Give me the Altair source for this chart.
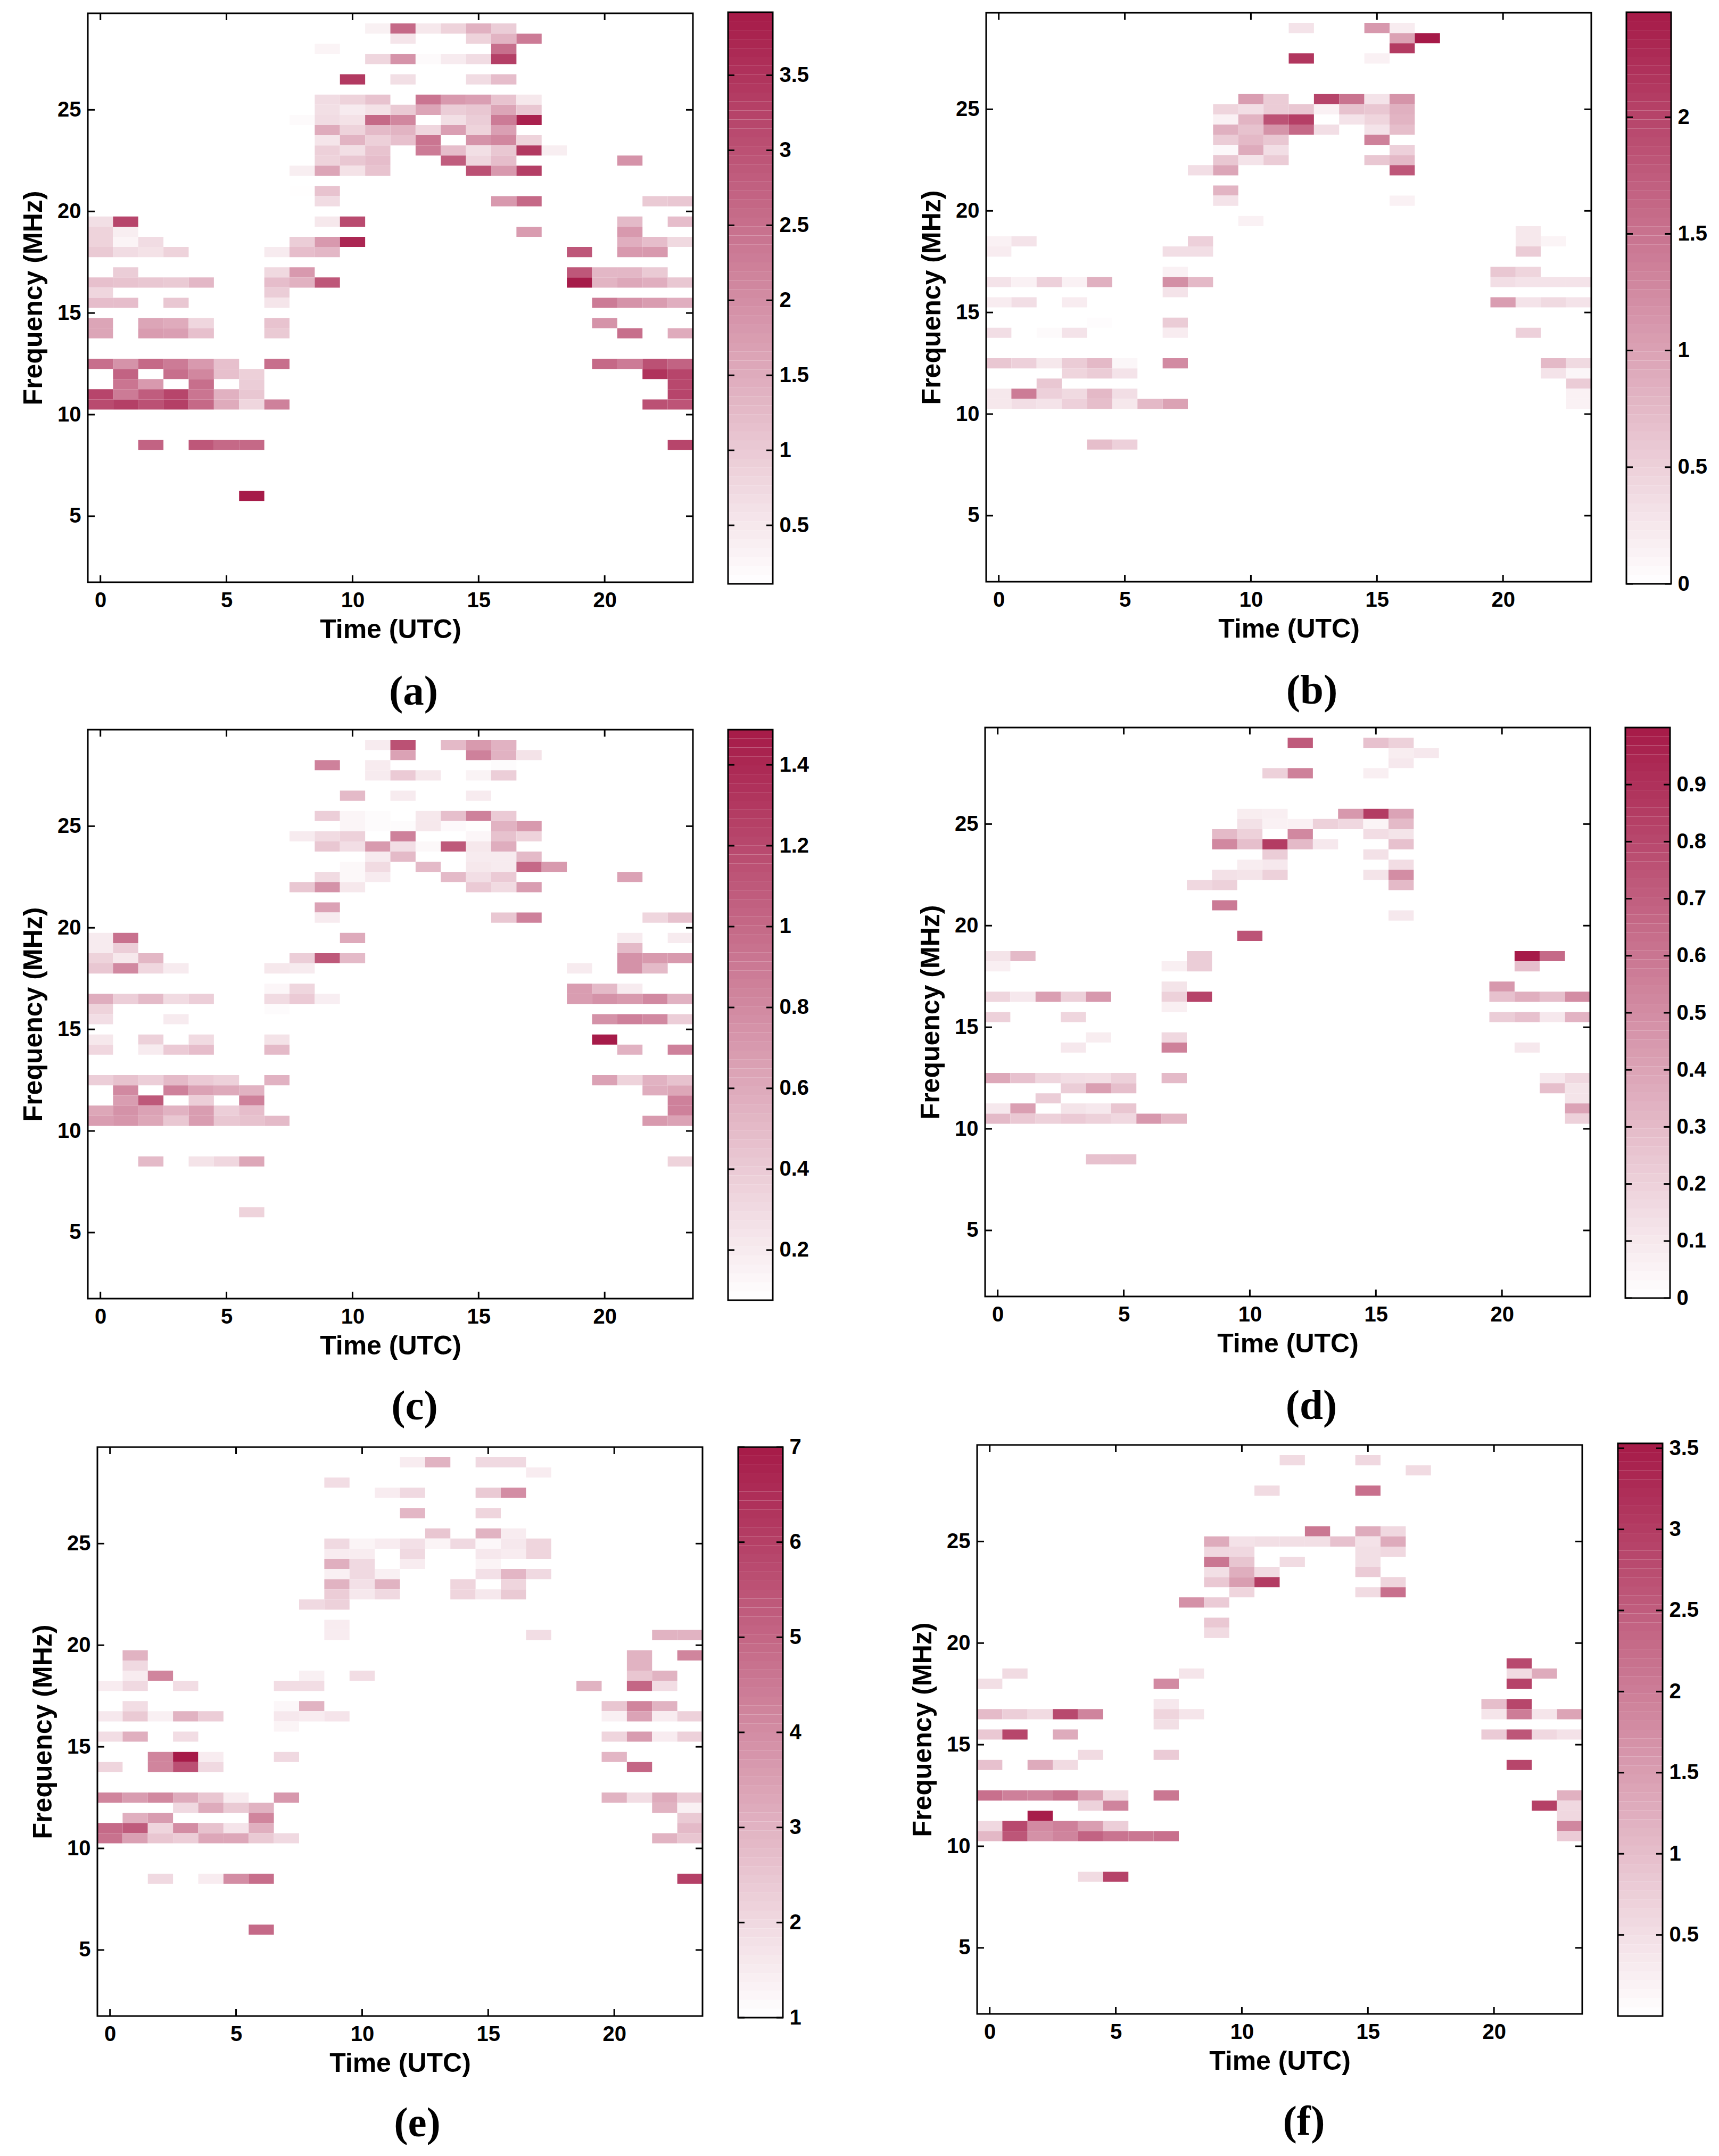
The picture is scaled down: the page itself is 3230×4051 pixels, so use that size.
import altair as alt
import numpy as np
import pandas as pd

PANEL_A = {
 29: {11:.35,12:2.6,13:.5,14:.85,15:1.4,16:.95},
 28.5: {12:.55,15:.85,16:1.35,17:2.3},
 28: {9:.3,16:2.5},
 27.5: {11:.8,12:1.9,13:.2,14:.45,15:.7,16:3.3},
 26.5: {10:3.4,12:.65,15:.7,16:1.2},
 25.5: {9:.7,10:.85,11:1.1,13:2.4,14:1.8,15:1.7,16:1.1,17:.5},
 25: {9:.65,10:.45,11:.6,12:1.0,13:1.6,14:.95,15:1.05,16:1.6,17:1.05},
 24.5: {8:.2,9:.7,10:.6,11:2.6,12:2.1,14:.65,15:.95,16:2.3,17:3.8},
 24: {9:1.5,10:.85,11:1.25,12:1.35,13:.8,14:1.7,15:.85,16:1.7},
 23.5: {9:.55,10:1.35,11:.9,12:1.15,13:2.4,15:1.9,16:2.1,17:.85},
 23: {9:.9,10:.65,11:1.1,13:2.3,14:1.2,15:.65,16:1.05,17:3.4,18:.4},
 22.5: {9:.85,10:1.05,11:1.2,14:2.8,15:.8,16:1.2,21:1.9},
 22: {8:.4,9:1.6,10:.6,11:1.1,15:3.0,16:1.8,17:3.3},
 21: {8:.13,9:1.1},
 20.5: {9:.7,16:1.8,17:2.6,22:1.0,23:1.05},
 19.5: {0:.65,1:3.2,9:.5,10:3.1,21:1.25,23:1.2},
 19: {0:.85,1:.4,17:1.75,21:1.8},
 18.5: {0:.85,1:.3,2:.7,8:.95,9:1.8,10:3.7,21:1.45,22:1.2,23:.75},
 18: {0:1.0,1:.7,2:.6,3:.85,7:.45,8:1.2,9:1.3,19:2.9,21:1.8,22:1.8},
 17: {1:.95,7:.75,8:1.8,19:2.9,20:1.3,21:1.3,22:1.0},
 16.5: {0:1.15,1:1.1,2:1.05,3:1.0,4:1.3,7:1.2,8:1.4,9:2.9,19:3.9,20:1.35,21:1.55,22:1.45,23:1.05},
 16: {0:.8,7:.95},
 15.5: {0:1.2,1:1.2,3:1.05,7:.55,20:2.3,21:1.9,22:1.75,23:1.45},
 14.5: {0:1.6,2:1.6,3:1.5,4:.8,7:1.1,20:1.9},
 14: {0:1.6,2:1.75,3:1.7,4:1.15,7:1.0,21:2.5,23:1.5},
 12.5: {0:2.5,1:1.9,2:2.6,3:2.3,4:1.8,5:1.15,7:2.5,20:2.6,21:2.3,22:3.0,23:2.7},
 12: {1:2.7,3:2.5,4:2.1,5:1.15,6:.9,22:3.5,23:3.2},
 11.5: {1:2.4,2:1.8,4:2.5,6:.95,23:3.15},
 11: {0:3.2,1:2.3,2:2.8,3:3.2,4:2.4,5:1.4,6:1.05,23:3.2},
 10.5: {0:3.1,1:3.3,2:3.0,3:3.3,4:2.6,5:1.5,6:.8,7:2.2,22:3.0,23:2.95},
 8.5: {2:2.7,4:2.9,5:2.6,6:2.6,23:3.2},
 6: {6:3.9},
}
PANEL_B = {
 29: {12:.3,15:1.1,16:.2},
 28.5: {16:1.0,17:2.45},
 28: {16:2.1},
 27.5: {12:2.15,15:.15},
 25.5: {10:1.05,11:.55,13:2.0,14:1.5,15:.3,16:1.15},
 25: {9:.45,10:.35,11:.55,12:.6,13:.15,14:.65,15:.6,16:.85},
 24.5: {9:.15,10:.8,11:1.85,12:2.05,14:.3,15:.45,16:.8},
 24: {9:.85,10:.65,11:1.15,12:1.6,13:.35,15:.3,16:.7},
 23.5: {9:.55,10:.75,11:.6,15:1.35},
 23: {9:.07,10:.9,11:.35,16:.5},
 22.5: {9:.6,10:.3,11:.55,15:.6,16:.75},
 22: {8:.35,9:.95,16:1.8},
 21: {9:.8},
 20.5: {9:.3,16:.15},
 19.5: {10:.15},
 19: {21:.25},
 18.5: {0:.15,1:.3,8:.5,21:.25,22:.12},
 18: {0:.2,7:.35,8:.35,21:.55},
 17: {7:.15,20:.6,21:.45},
 16.5: {0:.3,1:.15,2:.5,3:.15,4:.85,7:1.2,8:.75,20:.35,21:.3,22:.3,23:.3},
 16: {7:.3},
 15.5: {0:.2,1:.35,3:.2,20:1.05,21:.3,22:.4,23:.3},
 14.5: {4:.03,7:.55},
 14: {0:.35,2:.05,3:.3,7:.2,21:.5},
 12.5: {0:.6,1:.5,2:.25,3:.55,4:.75,5:.1,7:1.25,22:.75,23:.4},
 12: {3:.45,4:.55,5:.3,22:.3,23:.1},
 11.5: {2:.6,23:.55},
 11: {0:.25,1:1.4,2:.5,3:.4,4:.75,5:.35,23:.15},
 10.5: {0:.25,1:.35,2:.3,3:.5,4:.7,5:.25,6:.75,7:1.0,23:.15},
 8.5: {4:.7,5:.5},
}
PANEL_C = {
 29: {11:.2,12:1.15,14:.5,15:.7,16:.55},
 28.5: {12:.65,15:.85,16:.55,17:.25},
 28: {9:.85,11:.2,16:.1},
 27.5: {11:.2,12:.4,13:.22,15:.15,16:.38},
 26.5: {10:.5,12:.2,15:.2},
 25.5: {9:.38,10:.14,11:.1,13:.22,14:.47,15:.85,16:.4},
 25: {10:.14,11:.1,12:.1,13:.22,14:.11,15:.08,16:.55,17:.7},
 24.5: {8:.2,9:.3,10:.36,12:.85,15:.13,16:.45,17:.35},
 24: {9:.42,10:.28,11:.7,12:.28,13:.12,14:1.1,15:.22,16:.58},
 23.5: {11:.2,12:.5,15:.2,16:.2,17:.5},
 23: {10:.12,11:.3,13:.5,15:.22,16:.2,17:1.0,18:.7},
 22.5: {9:.3,10:.12,11:.2,14:.5,15:.28,16:.4,21:.65},
 22: {8:.42,9:.75,10:.22,15:.4,16:.3,17:.68},
 21: {9:.65},
 20.5: {9:.2,16:.42,17:.85,22:.33,23:.45},
 19.5: {0:.2,1:.95,10:.6,21:.2,23:.2},
 19: {0:.2,1:.38,21:.5},
 18.5: {0:.35,1:.22,2:.52,8:.38,9:1.1,10:.5,21:.75,22:.7,23:.7},
 18: {0:.42,1:.8,2:.32,3:.2,7:.22,8:.2,19:.2,21:.75,22:.5},
 17: {7:.13,8:.33,19:.68,20:.5,21:.2},
 16.5: {0:.58,1:.38,2:.5,3:.3,4:.38,7:.3,8:.4,9:.18,19:.68,20:.75,21:.7,22:.8,23:.55},
 16: {0:.35,7:.1},
 15.5: {0:.28,3:.2,20:.75,21:.85,22:.8,23:.38},
 14.5: {0:.22,2:.36,4:.3,7:.25,20:1.48},
 14: {0:.32,2:.2,3:.4,4:.48,7:.5,21:.55,23:.85},
 12.5: {0:.38,1:.45,2:.38,3:.5,4:.4,5:.36,7:.55,20:.65,21:.35,22:.55,23:.45},
 12: {1:.8,3:.85,4:.65,5:.6,6:.55,22:.58,23:.62},
 11.5: {1:.68,2:1.1,4:.38,6:.85,23:.85},
 11: {0:.62,1:.75,2:.65,3:.55,4:.68,5:.38,6:.48,23:.85},
 10.5: {0:.68,1:.72,2:.62,3:.42,4:.68,5:.42,6:.45,7:.5,22:.7,23:.65},
 8.5: {2:.5,4:.25,5:.32,6:.62,23:.35},
 6: {6:.35},
}
PANEL_D = {
 29: {12:.72,15:.27,16:.2},
 28.5: {16:.08,17:.1},
 28: {16:.1},
 27.5: {11:.2,12:.55,15:.07},
 25.5: {10:.08,11:.07,14:.45,15:.85,16:.4},
 25: {10:.13,11:.06,12:.06,13:.2,14:.17,15:.05,16:.3},
 24.5: {9:.3,10:.2,12:.52,15:.15,16:.12},
 24: {9:.52,10:.28,11:.85,12:.3,13:.1,16:.27},
 23.5: {11:.22,15:.13},
 23: {10:.08,11:.1,16:.15},
 22.5: {9:.13,10:.12,11:.2,15:.12,16:.5},
 22: {8:.17,9:.2,16:.3},
 21: {9:.58},
 20.5: {16:.1},
 19.5: {10:.75},
 18.5: {0:.12,1:.3,8:.22,21:1.0,22:.65},
 18: {0:.07,7:.07,8:.22,21:.28},
 17: {7:.12,20:.45},
 16.5: {0:.18,1:.1,2:.42,3:.2,4:.45,7:.2,8:.82,20:.27,21:.35,22:.28,23:.5},
 16: {7:.07},
 15.5: {0:.2,3:.18,20:.22,21:.27,22:.1,23:.33},
 14.5: {4:.08,7:.17},
 14: {3:.1,7:.55,21:.1},
 12.5: {0:.38,1:.27,2:.18,3:.15,4:.14,5:.2,7:.3,22:.1,23:.17},
 12: {3:.22,4:.42,5:.28,22:.28,23:.12},
 11.5: {2:.22,23:.12},
 11: {0:.1,1:.42,3:.12,4:.1,5:.25,23:.4},
 10.5: {0:.3,1:.24,2:.2,3:.23,4:.2,5:.17,6:.45,7:.32,23:.2},
 8.5: {4:.27,5:.27},
}
PANEL_E = {
 29: {12:1.5,13:3.0,15:2.0,16:2.0},
 28.5: {17:1.5},
 28: {9:1.9},
 27.5: {11:1.5,12:2.0,15:2.4,16:4.0},
 26.5: {12:2.9,15:2.1},
 25.5: {13:2.5,15:3.0,16:1.5},
 25: {9:2.0,10:1.3,11:1.5,12:1.8,13:1.3,14:2.0,15:1.2,16:1.6,17:2.1},
 24.5: {9:1.5,10:1.5,12:2.0,15:1.6,16:1.5,17:2.1},
 24: {9:3.1,10:2.0,12:1.5,15:1.3},
 23.5: {9:1.4,10:2.0,11:1.4,15:1.8,16:2.9,17:2.0},
 23: {9:3.0,10:1.8,11:3.0,14:2.1,16:2.1},
 22.5: {9:2.3,10:1.6,11:2.0,14:2.1,15:1.6,16:2.4},
 22: {8:2.0,9:2.2},
 21: {9:1.5},
 20.5: {9:1.5,17:1.9,22:3.0,23:3.0},
 19.5: {1:3.0,21:3.0,23:4.2},
 19: {1:2.0,21:3.0},
 18.5: {1:1.5,2:4.2,8:1.4,10:1.9,21:2.5,22:3.0},
 18: {0:1.5,1:2.0,3:1.9,7:1.9,8:1.9,19:3.0,21:5.0,22:1.9},
 17: {1:1.9,7:1.2,8:3.0,20:2.5,21:4.2,22:3.0},
 16.5: {0:1.6,1:2.4,2:1.4,3:3.0,4:2.3,7:1.6,8:1.5,9:1.7,20:1.4,21:3.4,22:1.5,23:2.2},
 16: {7:1.3},
 15.5: {0:1.9,1:3.1,3:1.9,20:2.1,21:3.6,22:1.5,23:2.2},
 14.5: {2:4.2,3:7.0,4:1.5,7:2.0,20:2.9},
 14: {0:2.1,2:4.2,3:5.6,4:2.0,21:5.0},
 12.5: {0:4.2,1:3.6,2:4.1,3:3.2,4:2.5,5:1.5,7:3.7,20:3.0,21:1.9,22:3.2,23:2.3},
 12: {3:2.0,4:3.2,5:2.4,6:3.0,22:3.0,23:1.4},
 11.5: {1:3.1,2:3.6,6:4.2,23:2.4},
 11: {0:4.9,1:5.3,2:2.1,3:4.0,4:2.6,5:1.7,6:3.1,23:2.8},
 10.5: {0:4.7,1:3.5,2:2.5,3:2.3,4:3.3,5:3.3,6:2.4,7:2.0,22:3.0,23:2.5},
 8.5: {2:2.0,4:1.5,5:4.0,6:4.8,23:6.0},
 6: {6:4.9},
}
PANEL_F = {
 29: {12:.55,15:.6},
 28.5: {17:.55},
 27.5: {11:.55,15:2.2},
 25.5: {13:2.1,15:1.3,16:.6},
 25: {9:1.3,10:.45,11:.5,12:.5,13:.5,14:.95,15:.45,16:1.3},
 24.5: {9:.6,10:.6,15:.5,16:.6},
 24: {9:2.1,10:.9,12:.55,15:.5},
 23.5: {9:.5,10:1.25,11:.55,15:.8},
 23: {9:.85,10:1.5,11:3.0,16:.65},
 22.5: {10:.65,15:.55,16:2.2},
 22: {8:1.7,9:.8},
 21: {9:.85},
 20.5: {9:.55},
 19: {21:2.8},
 18.5: {1:.55,8:.4,21:.55,22:1.3},
 18: {0:.5,7:1.8,21:2.9},
 17: {7:.35,20:1.0,21:2.85},
 16.5: {0:1.05,1:.75,2:.55,3:2.8,4:1.9,7:.65,8:.4,20:.4,21:2.0,22:.4,23:1.4},
 16: {7:.5},
 15.5: {0:.85,1:2.85,3:1.3,20:.8,21:2.6,22:.6,23:.45},
 14.5: {4:.55,7:.8},
 14: {0:.95,2:1.3,3:.55,21:2.85},
 12.5: {0:2.2,1:1.95,2:1.9,3:2.15,4:1.4,5:.55,7:2.1,23:1.2},
 12: {4:.7,5:1.9,22:2.95,23:.6},
 11.5: {2:3.5,23:.6},
 11: {0:.6,1:2.8,2:1.8,3:1.95,4:1.5,5:.75,23:1.85},
 10.5: {0:1.1,1:2.6,2:1.7,3:1.9,4:2.4,5:2.15,6:2.1,7:2.2,23:.8},
 8.5: {4:.55,5:2.9},
}

TIME_TICKS = [0, 5, 10, 15, 20]
FREQ_TICKS = [5, 10, 15, 20, 25]
CB_TICKS_A = [0.5, 1, 1.5, 2, 2.5, 3, 3.5]
CB_TICKS_B = [0, 0.5, 1, 1.5, 2]
CB_TICKS_C = [0.2, 0.4, 0.6, 0.8, 1, 1.2, 1.4]
CB_TICKS_D = [0, 0.1, 0.2, 0.3, 0.4, 0.5, 0.6, 0.7, 0.8, 0.9]
CB_TICKS_E = [1, 2, 3, 4, 5, 6, 7]
CB_TICKS_F = [0.5, 1, 1.5, 2, 2.5, 3, 3.5]

COLORS = ["#ffffff", "#a61a48"]
SANS = "Liberation Sans"
SERIF = "Liberation Serif"
W, H = 1137, 1069
CB_W = 84
N_LEVELS = 64
MARGIN = 8
TICK_W = 3


def to_table(panel):
    rows = []
    for freq, cells in panel.items():
        for hour, val in cells.items():
            rows.append({"h0": hour - 0.5, "h1": hour + 0.5,
                         "f0": freq - 0.25, "f1": freq + 0.25, "v": val})
    return pd.DataFrame(rows)


def frame(x0, y0, w, h):
    return alt.Chart(pd.DataFrame({"b": [0]})).mark_rect(
        fillOpacity=0, stroke="black", strokeWidth=TICK_W
    ).encode(x=alt.value(x0), x2=alt.value(x0 + w), y=alt.value(y0), y2=alt.value(y0 + h))


def heat(panel, dom, label, lx, ly, dx, dy, vw, vh):
    xs = alt.Scale(domain=[-0.5, 23.5], nice=False, zero=False, range=[dx, dx + W])
    ys = alt.Scale(domain=[1.75, 29.75], nice=False, zero=False, range=[dy + H, dy])
    xax = alt.Axis(values=TIME_TICKS, title="Time (UTC)", grid=False, domain=False,
                   ticks=False, labelFont=SANS, labelFontWeight="bold", labelFontSize=40,
                   labelPadding=14, labelColor="black", titleFont=SANS,
                   titleFontWeight="bold", titleFontSize=50, titleColor="black",
                   titlePadding=10, labelFlush=False, format="d", offset=-(vh - dy - H))
    yax = alt.Axis(values=FREQ_TICKS, title="Frequency (MHz)", grid=False, domain=False,
                   ticks=False, labelFont=SANS, labelFontWeight="bold", labelFontSize=40,
                   labelPadding=13, labelColor="black", titleFont=SANS,
                   titleFontWeight="bold", titleFontSize=50, titleColor="black",
                   titlePadding=19, labelFlush=False, format="d", offset=-dx)
    cells = alt.Chart(to_table(panel)).mark_rect().encode(
        x=alt.X("h0:Q", scale=xs, axis=xax),
        x2="h1:Q",
        y=alt.Y("f0:Q", scale=ys, axis=yax),
        y2="f1:Q",
        color=alt.Color("v:Q", scale=alt.Scale(domain=dom, range=COLORS, clamp=True,
                                               interpolate="rgb"), legend=None),
    )
    xt = alt.Chart(pd.DataFrame({"t": TIME_TICKS}))
    yt = alt.Chart(pd.DataFrame({"t": FREQ_TICKS}))
    tick = dict(color="black", strokeWidth=TICK_W)
    return alt.layer(
        cells,
        xt.mark_rule(**tick).encode(x=alt.X("t:Q", scale=xs), y=alt.value(dy + H), y2=alt.value(dy + H - 13)),
        xt.mark_rule(**tick).encode(x=alt.X("t:Q", scale=xs), y=alt.value(dy), y2=alt.value(dy + 13)),
        yt.mark_rule(**tick).encode(y=alt.Y("t:Q", scale=ys), x=alt.value(dx), x2=alt.value(dx + 13)),
        yt.mark_rule(**tick).encode(y=alt.Y("t:Q", scale=ys), x=alt.value(dx + W), x2=alt.value(dx + W - 13)),
        frame(dx, dy, W, H),
        alt.Chart(pd.DataFrame({"s": [label]})).mark_text(
            font=SERIF, fontWeight="bold", fontSize=79, color="black", baseline="middle", align="center"
        ).encode(text="s:N", x=alt.value(dx + lx), y=alt.value(dy + ly)),
    ).properties(width=vw, height=vh)


def colorbar(dom, ticks, cb_h, dx, dy, vw, vh):
    edges = np.linspace(dom[0], dom[1], N_LEVELS + 1)
    df = pd.DataFrame({"lo": edges[:-1], "hi": edges[1:], "mid": (edges[:-1] + edges[1:]) / 2})
    ys = alt.Scale(domain=dom, nice=False, zero=False, range=[dy + cb_h, dy])
    yax = alt.Axis(values=ticks, title=None, orient="right", grid=False, domain=False, ticks=False,
                   labelFont=SANS, labelFontWeight="bold", labelFontSize=40, labelPadding=12,
                   labelColor="black", labelFlush=False, labelOverlap=False, format="~g",
                   offset=-(vw - dx - CB_W))
    band = alt.Chart(df).mark_rect().encode(
        y=alt.Y("lo:Q", scale=ys, axis=yax),
        y2="hi:Q",
        x=alt.value(dx), x2=alt.value(dx + CB_W),
        color=alt.Color("mid:Q", scale=alt.Scale(domain=dom, range=COLORS, interpolate="rgb"),
                        legend=None),
    )
    t = alt.Chart(pd.DataFrame({"t": ticks}))
    tick = dict(color="black", strokeWidth=TICK_W)
    return alt.layer(
        band,
        t.mark_rule(**tick).encode(y=alt.Y("t:Q", scale=ys), x=alt.value(dx), x2=alt.value(dx + 12)),
        t.mark_rule(**tick).encode(y=alt.Y("t:Q", scale=ys), x=alt.value(dx + CB_W), x2=alt.value(dx + CB_W - 12)),
        frame(dx, dy, CB_W, cb_h),
    ).properties(width=vw, height=vh)


def blank(w, h):
    return alt.Chart(pd.DataFrame({"b": [0]})).mark_point(opacity=0, size=1).encode(
        x=alt.value(0), y=alt.value(0)
    ).properties(width=w, height=h)


# grid origins on the page, and the size of each grid cell
COL_X = [164, 1367, 1835, 3039]
COL_W = [1203, 468, 1204, 100]
ROW_Y = [22, 1366, 2711]
ROW_H = [1344, 1345, 1100]

# x, top: plot's corner; cx, ctop, ch: bar's corner and height
SPEC = [
    [dict(d=PANEL_A, dom=[0.11, 3.92], t=CB_TICKS_A, l="(a)", lx=612, ly=1275, x=164, top=24, cx=1367, ctop=22, ch=1074),
     dict(d=PANEL_B, dom=[0, 2.45], t=CB_TICKS_B, l="(b)", lx=612, ly=1274, x=1852, top=23, cx=3055, ctop=22, ch=1074)],
    [dict(d=PANEL_C, dom=[0.076, 1.487], t=CB_TICKS_C, l="(c)", lx=614, ly=1272, x=164, top=1370, cx=1367, ctop=1370, ch=1072),
     dict(d=PANEL_D, dom=[0, 1.0], t=CB_TICKS_D, l="(d)", lx=613, ly=1275, x=1850, top=1366, cx=3053, ctop=1366, ch=1072)],
    [dict(d=PANEL_E, dom=[1, 7], t=CB_TICKS_E, l="(e)", lx=601, ly=1271, x=182, top=2718, cx=1386, ctop=2718, ch=1072),
     dict(d=PANEL_F, dom=[0, 3.53], t=CB_TICKS_F, l="(f)", lx=614, ly=1272, x=1835, top=2714, cx=3039, ctop=2711, ch=1076)],
]

views = [blank(1, ROW_Y[0] - MARGIN) for _ in range(5)]
for r, row in enumerate(SPEC):
    views.append(blank(COL_X[0] - MARGIN, 1))
    for p, s in enumerate(row):
        hc, cc = 2 * p, 2 * p + 1
        views.append(heat(s["d"], s["dom"], s["l"], s["lx"], s["ly"],
                          s["x"] - COL_X[hc], s["top"] - ROW_Y[r], COL_W[hc], ROW_H[r]))
        views.append(colorbar(s["dom"], s["t"], s["ch"],
                              s["cx"] - COL_X[cc], s["ctop"] - ROW_Y[r], COL_W[cc], ROW_H[r]))

chart = alt.concat(*views, columns=5, spacing=0, align="none", bounds="flush").resolve_scale(
    color="independent"
).configure_view(stroke=None).properties(padding=0)

chart.save("out.html", embed_options={"renderer": "svg", "actions": False})
